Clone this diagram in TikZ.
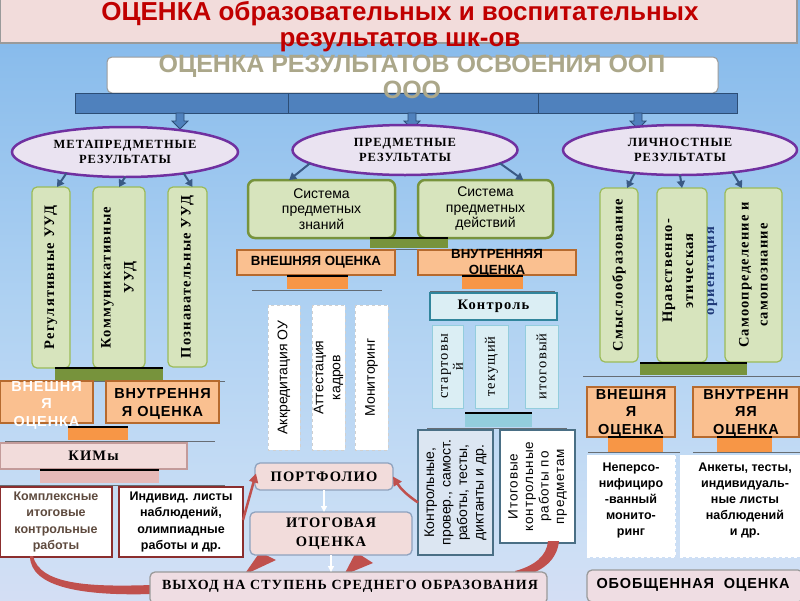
\documentclass[tikz,border=0pt]{standalone}
\usepackage{fontspec}
\setmainfont{Liberation Serif}
\setsansfont{Liberation Sans}
\newfontfamily\spserif{Liberation Serif}[LetterSpace=8]
\newfontfamily\spsans{Liberation Sans}[LetterSpace=6]
\usetikzlibrary{shapes.geometric,arrows.meta,calc}
\definecolor{cTitleRed}{HTML}{C00000}
\definecolor{cTitleFill}{HTML}{F2DCDB}
\definecolor{cGrayLine}{HTML}{9A9A9A}
\definecolor{cOlive}{HTML}{ABA78A}
\definecolor{cBar}{HTML}{4F81BD}
\definecolor{cBarLine}{HTML}{2C4D75}
\definecolor{cElFill}{HTML}{EAE3F1}
\definecolor{cElLine}{HTML}{7030A0}
\definecolor{cGFill}{HTML}{D7E4BD}
\definecolor{cGLine}{HTML}{9BBB59}
\definecolor{cGDark}{HTML}{77933C}
\definecolor{cOFill}{HTML}{FAC090}
\definecolor{cOLine}{HTML}{B66A2E}
\definecolor{cODark}{HTML}{F79646}
\definecolor{cPFill}{HTML}{F2DCDB}
\definecolor{cPDark}{HTML}{E6B9B8}
\definecolor{cPLine}{HTML}{C39B9A}
\definecolor{cCFill}{HTML}{DBEEF4}
\definecolor{cCLine}{HTML}{31859C}
\definecolor{cCMid}{HTML}{93CDDD}
\definecolor{cCBox}{HTML}{DCE6F2}
\definecolor{cCBoxLine}{HTML}{4A6F85}
\definecolor{cRed}{HTML}{C0504D}
\definecolor{cArr}{HTML}{3A5A85}
\definecolor{cNavy}{HTML}{1F3A78}
\definecolor{cKompl}{HTML}{5E4A3E}
\definecolor{cKomplLine}{HTML}{8B2E2E}
\definecolor{cBlueGray}{HTML}{8EA2BE}
\definecolor{cVyhod}{HTML}{EFDDE3}
\definecolor{cDash}{HTML}{D0D0D0}
\definecolor{cShLine}{HTML}{4A4A4A}
\definecolor{bgA}{HTML}{F3D9EC}
\definecolor{bgB}{HTML}{E3DCF2}
\definecolor{bgC}{HTML}{CCDFF5}
\definecolor{bgD}{HTML}{AED1F2}
\definecolor{bgE}{HTML}{8BBDEC}
\definecolor{bgF}{HTML}{68A6E4}
\definecolor{bgG}{HTML}{4A8FDB}
\pgfdeclareverticalshading{bgshade}{100bp}{color(0bp)=(bgA); color(15bp)=(bgB); color(30bp)=(bgC); color(50bp)=(bgD); color(70bp)=(bgE); color(85bp)=(bgF); color(100bp)=(bgG)}
\newcommand{\fsz}[2]{\fontsize{#1}{#2}\selectfont}
\begin{document}
\begin{tikzpicture}[x=1pt,y=-1pt,
  every node/.style={inner sep=0pt,outer sep=0pt,align=center},
  titletext/.style={font=\sffamily\bfseries\fsz{26}{28},text=cTitleRed},
  subtext/.style={font=\sffamily\bfseries\fsz{25}{27},text=cOlive},
  bluebar/.style={draw=cBarLine,fill=cBar,line width=1},
  barArrow/.style={draw=cBarLine,fill=cBar,line width=0.8},
  ell/.style={ellipse,draw=cElLine,fill=cElFill,line width=2.5,font=\spserif\bfseries\fsz{12.5}{15}},
  darr/.style={draw=cArr,line width=2,-{Triangle[length=7pt,width=8pt]}},
  gbox/.style={draw=cGLine,fill=cGFill,rounded corners=5,line width=1.2},
  gboxthick/.style={draw=cGDark,fill=cGFill,rounded corners=7,line width=2.5},
  vser/.style={font=\spserif\bfseries\fsz{14.5}{22}},
  plat/.style={fill=cGDark},
  oplat/.style={fill=cODark},
  pplat/.style={fill=cPDark},
  cplat/.style={fill=cCMid},
  topl/.style={draw=black,line width=2},
  shline/.style={draw=cShLine,line width=0.8,draw opacity=0.75},
  obox/.style={draw=cOLine,fill=cOFill,line width=1.3},
  osans/.style={font=\spsans\bfseries\fsz{14.5}{17.5}},
  pbox/.style={draw=cPLine,fill=cPFill,line width=1.3},
  rbox/.style={draw=cBlueGray,fill=cPFill,rounded corners=5,line width=1.3},
  wbox/.style={draw=cKomplLine,fill=white,line width=1.3},
  wtext/.style={font=\sffamily\bfseries\fsz{12.5}{16.3}},
  dbox/.style={draw=cDash,dashed,fill=white,line width=0.8},
  ctrl/.style={draw=cCLine,fill=cCFill,line width=2.5},
  cbox/.style={draw=cCMid,fill=cCFill,line width=1},
  cbig/.style={draw=cCBoxLine,line width=1.8},
  redarr/.style={draw=cRed,line width=2.5,-{Triangle[length=9pt,width=9pt]}},
  warr/.style={draw=white,line width=1.5,-{Triangle[length=6pt,width=6pt]}}]
\useasboundingbox (0,0) rectangle (800,600);
\shade[shading=bgshade] (0,0) rectangle (800,600);

% title
\node[draw=cGrayLine,line width=1.2,fill=cTitleFill,minimum width=797,minimum height=45,anchor=north west] (tbar) at (0,-2) {};
\node[titletext,anchor=base] (t1) at (400,20) {ОЦЕНКА образовательных и воспитательных};
\node[titletext,anchor=base] (t2) at (400,46) {результатов шк-ов};

% OOP box and bar
\node[draw=cGrayLine,fill=white,rounded corners=5,minimum width=611,minimum height=36,line width=1] (oop) at (412.5,75) {};
\node[bluebar,minimum width=213,minimum height=20] (bar1) at (181.5,103) {};
\node[bluebar,minimum width=250,minimum height=20] (bar2) at (413,103) {};
\node[bluebar,minimum width=199,minimum height=20] (bar3) at (637.5,103) {};
\node[subtext,anchor=base] (s1) at (412,72) {ОЦЕНКА РЕЗУЛЬТАТОВ ОСВОЕНИЯ ООП};
\node[subtext,anchor=base] (s2) at (412,98) {ООО};
\foreach \ax in {180,412,638}{
  \draw[barArrow] (\ax-4,113) -- (\ax-4,121) -- (\ax-8,121) -- (\ax,129) -- (\ax+8,121) -- (\ax+4,121) -- (\ax+4,113) -- cycle;
}

% ellipses
\node[ell,minimum width=226,minimum height=50] (el1) at (125,152) {МЕТАПРЕДМЕТНЫЕ\\РЕЗУЛЬТАТЫ};
\node[ell,minimum width=225,minimum height=50] (el2) at (405,150) {ПРЕДМЕТНЫЕ\\РЕЗУЛЬТАТЫ};
\node[ell,minimum width=234,minimum height=50] (el3) at (680,150) {ЛИЧНОСТНЫЕ\\РЕЗУЛЬТАТЫ};

% ===== left column =====
\node[gbox,vser,rotate=90,minimum width=181,minimum height=38] (reg) at (51,277.5) {Регулятивные УУД};
\node[gbox,vser,rotate=90,minimum width=181,minimum height=52,font=\spserif\bfseries\fsz{14.5}{23}] (komm) at (119,277.5) {Коммуникативные\\УУД};
\node[gbox,vser,rotate=90,minimum width=180,minimum height=39] (pozn) at (187.5,277) {Познавательные УУД};
\draw[darr] (el1.200) -- ($(reg.east)+(6,0)$);
\draw[darr] (el1.south) -- (komm.east);
\draw[darr] (el1.340) -- ($(pozn.east)+(5,0)$);

\draw[shline] (0,381) -- (225,381);
\node[plat,minimum width=108,minimum height=13] (plat1) at (109,374.5) {};
\draw[topl] (plat1.north west) -- (plat1.north east);
\node[obox,minimum width=93,minimum height=42] (vnesh1) at (46.5,402) {};
\node[obox,minimum width=113,minimum height=42] (vnutr1) at (162.5,402) {};
\node[osans,text=white] (vnesh1t) at (46.5,405) {ВНЕШНЯ\\Я\\ОЦЕНКА};
\node[osans] (vnutr1t) at (162.5,404) {ВНУТРЕННЯ\\Я ОЦЕНКА};

\draw[shline] (5,441) -- (215,441);
\node[oplat,minimum width=60,minimum height=13] (conn1) at (98,433.5) {};
\draw[topl] (conn1.north west) -- (conn1.north east);
\node[pbox,minimum width=187,minimum height=26,font=\spserif\bfseries\fsz{14.5}{17}] (kim) at (93.5,456) {КИМы};
\draw[shline] (0,485) -- (225,485);
\node[pplat,minimum width=119,minimum height=13] (conn2) at (99.5,476.5) {};
\draw[topl] (conn2.north west) -- (conn2.north east);
\node[wbox,wtext,text=cKompl,minimum width=112,minimum height=70] (kompl) at (56,522) {Комплексные\\итоговые\\контрольные\\работы};
\node[wbox,wtext,minimum width=124,minimum height=70] (indiv) at (181,522) {Индивид. листы\\наблюдений,\\олимпиадные\\работы и др.};

% ===== middle column =====
\node[gboxthick,minimum width=147,minimum height=58,font=\sffamily\fsz{14}{15.5}] (sz) at (321.5,209) {Система\\предметных\\знаний};
\node[gboxthick,minimum width=135,minimum height=58,font=\sffamily\fsz{14}{15.5}] (sd) at (485.5,209) {Система\\предметных\\действий};
\draw[darr] (el2.188) -- ($(sz.north west)!0.28!(sz.north east)$);
\draw[darr] (el2.352) -- ($(sd.north west)!0.78!(sd.north east)$);
\draw[shline] (322,249) -- (545,249);
\node[plat,minimum width=78,minimum height=10] (plat2) at (409,243) {};
\draw[topl] (plat2.north west) -- (plat2.north east);
\node[obox,minimum width=158,minimum height=25,font=\sffamily\bfseries\fsz{13.3}{15}] (vnesh2) at (316,262.5) {ВНЕШНЯЯ ОЦЕНКА};
\node[obox,minimum width=158,minimum height=25] (vnutr2) at (497,262.5) {};
\node[font=\sffamily\bfseries\fsz{13.3}{16}] (vnutr2t) at (497,263) {ВНУТРЕННЯЯ\\ОЦЕНКА};

\draw[shline] (252,290) -- (382,290);
\node[oplat,minimum width=61,minimum height=13] (conn3) at (317.5,282.5) {};
\draw[topl] (conn3.north west) -- (conn3.north east);
\draw[shline] (430,291) -- (555,291);
\node[oplat,minimum width=61,minimum height=13] (conn4) at (492.5,282.5) {};
\draw[topl] (conn4.north west) -- (conn4.north east);

\node[dbox,rotate=90,minimum width=145,minimum height=32,font=\sffamily\fsz{14}{17}] (akkr) at (284,377.5) {Аккредитация ОУ};
\node[dbox,rotate=90,minimum width=145,minimum height=33,font=\sffamily\fsz{14}{17}] (att) at (328.5,377.5) {Аттестация\\кадров};
\node[dbox,rotate=90,minimum width=145,minimum height=33,font=\sffamily\fsz{14}{17}] (mon) at (371.5,377.5) {Мониторинг};

\node[ctrl,minimum width=127,minimum height=27,font=\spserif\bfseries\fsz{14.5}{17}] (kontrol) at (493.5,306.5) {Контроль};
\node[cbox,rotate=90,minimum width=83,minimum height=31] (start) at (447.5,366.5) {};
\node[rotate=90,font=\spserif\fsz{14.5}{15}] (startt) at (452,366.5) {стартовы\\й};
\node[cbox,rotate=90,minimum width=83,minimum height=33,font=\spserif\fsz{14.5}{15}] (tek) at (491.5,366.5) {текущий};
\node[cbox,rotate=90,minimum width=83,minimum height=33,font=\spserif\fsz{14.5}{15}] (itg) at (541.5,366.5) {итоговый};
\draw[shline] (427,428) -- (567,428);
\node[cplat,minimum width=67,minimum height=14] (conn5) at (498.5,420) {};
\draw[topl] (conn5.north west) -- (conn5.north east);
\node[cbig,fill=cCBox,rotate=90,minimum width=125,minimum height=75,font=\sffamily\fsz{14}{16.5}] (kontrw) at (455.5,492.5) {Контрольные,\\провер., самост.\\работы, тесты,\\диктанты и др.};
\node[cbig,fill=white,rotate=90,minimum width=113,minimum height=75,font=\spsans\fsz{13.5}{15.5}] (itogw) at (537.5,486.5) {Итоговые\\контрольные\\работы по\\предметам};

% ===== right column =====
\node[gbox,vser,rotate=90,minimum width=174,minimum height=38] (smysl) at (619,275) {Смыслообразование};
\node[gbox,rotate=90,minimum width=174,minimum height=50] (nrav) at (682,275) {};
\node[vser,rotate=90,font=\spserif\bfseries\fsz{14.5}{21}] (nravt) at (690,271) {Нравственно-\\этическая\\\textcolor{cNavy}{ориентация}};
\node[gbox,rotate=90,minimum width=174,minimum height=57,font=\spserif\bfseries\fsz{14.5}{19}] (samo) at (753.5,275) {Самоопределение и\\самопознание};
\draw[darr] (el3.207) -- ($(smysl.east)+(8,0)$);
\draw[darr] (el3.south) -- (nrav.east);
\draw[darr] (el3.337) -- ($(samo.east)+(-11.5,0)$);

\draw[shline] (583,376) -- (800,376);
\node[plat,minimum width=107,minimum height=12] (plat3) at (693.5,369) {};
\draw[topl] (plat3.north west) -- (plat3.north east);
\node[obox,minimum width=88,minimum height=50] (vnesh3) at (631,412) {};
\node[obox,minimum width=106,minimum height=50] (vnutr3) at (746,412) {};
\node[osans] (vnesh3t) at (631,413) {ВНЕШНЯ\\Я\\ОЦЕНКА};
\node[osans] (vnutr3t) at (746,413) {ВНУТРЕНН\\ЯЯ\\ОЦЕНКА};
\draw[shline] (588,452) -- (680,452);
\draw[shline] (693,452) -- (800,452);
\node[oplat,minimum width=55,minimum height=15] (conn6) at (635.5,444.5) {};
\draw[topl] (conn6.north west) -- (conn6.north east);
\node[oplat,minimum width=55,minimum height=15] (conn7) at (744.5,444.5) {};
\draw[topl] (conn7.north west) -- (conn7.north east);
\node[dbox,draw=white,minimum width=88,minimum height=102] (neper) at (631,506) {};
\node[dbox,draw=white,minimum width=120,minimum height=102] (anket) at (740,506) {};
\node[wtext,font=\sffamily\bfseries\fsz{12.5}{16}] (nepert) at (631,500) {Неперсо-\\нифициро\\-ванный\\монито-\\ринг};
\node[wtext,font=\sffamily\bfseries\fsz{12.5}{16}] (ankett) at (745,500) {Анкеты, тесты,\\индивидуаль-\\ные листы\\наблюдений\\и др.};

% ===== bottom =====
\fill[cRed] (33,556) .. controls (40,585) and (90,587) .. (152,585) -- (152,594) .. controls (85,596) and (30,588) .. (30,556) -- cycle;
\fill[cRed] (548,541) -- (559,541) .. controls (557,561) and (541,573) .. (518,577) -- (515,571) .. controls (534,566) and (547,556) .. (548,541) -- cycle;
\fill[cRed] (244,575) -- (260,552) -- (276,560) -- cycle;
\fill[cRed] (344,575) -- (356,552) -- (373,563) -- cycle;

\node[rbox,minimum width=138,minimum height=27,font=\spserif\bfseries\fsz{14.5}{17}] (portf) at (324,476.5) {ПОРТФОЛИО};
\node[rbox,minimum width=162,minimum height=43,font=\spserif\bfseries\fsz{14.5}{19}] (itogocen) at (331,533.5) {ИТОГОВАЯ\\ОЦЕНКА};
\node[draw=cGrayLine,fill=cVyhod,rounded corners=5,line width=1.3,minimum width=397,minimum height=32] (vyhod) at (348.5,588) {};
\node[font=\spserif\bfseries\fsz{14}{17}] (vyhodt) at (350,586) {ВЫХОД НА СТУПЕНЬ СРЕДНЕГО ОБРАЗОВАНИЯ};
\node[draw=cGrayLine,fill=cVyhod,rounded corners=5,line width=1.3,minimum width=216,minimum height=32] (obob) at (695,586) {};
\node[font=\spsans\bfseries\fsz{14.5}{17}] (obobt) at (693,585) {ОБОБЩЕННАЯ~~ОЦЕНКА};

\draw[redarr] ($(indiv.east)+(0,-2)$) -- ($(portf.west)+(1,-3)$);
\draw[redarr] ($(kontrw.north)+(0,10)$) to[bend left=12] (portf.east);
\draw[warr] (portf.south) -- (portf.south |- itogocen.north);
\draw[warr] (itogocen.south) -- (itogocen.south |- vyhod.north);
\end{tikzpicture}
\end{document}
